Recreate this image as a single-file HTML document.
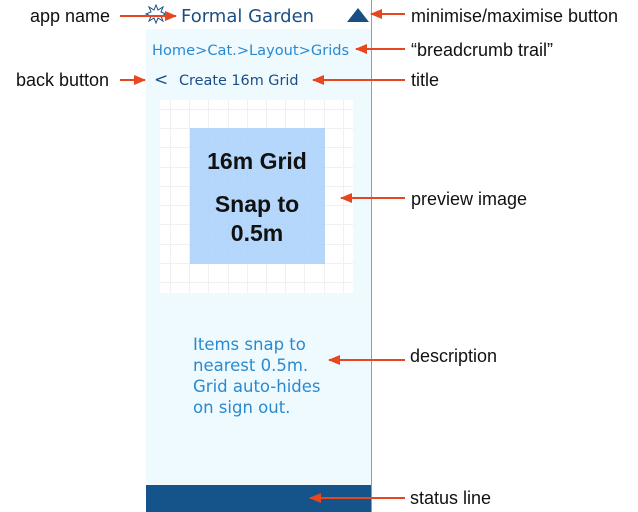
<!DOCTYPE html>
<html><head><meta charset="utf-8"><style>
html,body{margin:0;padding:0;background:#fff;}
svg{display:block;}
.l{font-family:"Liberation Sans",Arial,sans-serif;font-size:18px;fill:#111;}
.a{font-family:"DejaVu Sans",Verdana,sans-serif;}
</style></head><body>
<svg width="638" height="512" viewBox="0 0 638 512" xmlns="http://www.w3.org/2000/svg">
<defs>
<marker id="ar" markerWidth="12" markerHeight="10" refX="11" refY="5" orient="auto" markerUnits="userSpaceOnUse">
<path d="M0,0 L12,5 L0,10 z" fill="#e8461e"/>
</marker>
</defs>
<rect x="146" y="29" width="225" height="483" fill="#eefaff"/>
<line x1="371.5" y1="0" x2="371.5" y2="512" stroke="#9a9a9a" stroke-width="1"/>
<rect x="146" y="485" width="225" height="27" fill="#14548a"/>
<rect x="160" y="100" width="193" height="193" fill="#fff"/>
<g stroke="#f0f0f0" stroke-width="1">
<line x1="170.5" y1="100" x2="170.5" y2="293"/><line x1="189.5" y1="100" x2="189.5" y2="293"/>
<line x1="208.5" y1="100" x2="208.5" y2="293"/><line x1="228.5" y1="100" x2="228.5" y2="293"/>
<line x1="247.5" y1="100" x2="247.5" y2="293"/><line x1="266.5" y1="100" x2="266.5" y2="293"/>
<line x1="285.5" y1="100" x2="285.5" y2="293"/><line x1="304.5" y1="100" x2="304.5" y2="293"/>
<line x1="324.5" y1="100" x2="324.5" y2="293"/><line x1="343.5" y1="100" x2="343.5" y2="293"/>
<line x1="160" y1="109.5" x2="353" y2="109.5"/><line x1="160" y1="128.5" x2="353" y2="128.5"/>
<line x1="160" y1="147.5" x2="353" y2="147.5"/><line x1="160" y1="167.5" x2="353" y2="167.5"/>
<line x1="160" y1="186.5" x2="353" y2="186.5"/><line x1="160" y1="205.5" x2="353" y2="205.5"/>
<line x1="160" y1="224.5" x2="353" y2="224.5"/><line x1="160" y1="244.5" x2="353" y2="244.5"/>
<line x1="160" y1="263.5" x2="353" y2="263.5"/><line x1="160" y1="282.5" x2="353" y2="282.5"/>
</g>
<rect x="190" y="128" width="135" height="136" fill="#a8d0fa" opacity="0.85"/>
<g font-family="Liberation Sans,Arial,sans-serif" font-weight="bold" font-size="23" fill="#111" text-anchor="middle">
<text x="257" y="169">16m Grid</text>
<text x="257" y="212">Snap to</text>
<text x="257" y="241">0.5m</text>
</g>
<g transform="translate(156,14)" fill="none" stroke="#1a4f86" stroke-width="1">
<path d="M0,-9 L2,-4 L7,-7 L5,-2 L10,0 L5,2 L7,7 L2,4 L0,9 L-2,4 L-7,7 L-5,2 L-10,0 L-5,-2 L-7,-7 L-2,-4 Z"/>
</g>
<text class="a" x="181" y="22" font-size="18" fill="#1a4f86">Formal Garden</text>
<path d="M347,22 L358,8 L369,22 Z" fill="#1a4f86"/>
<text class="a" x="152" y="55" font-size="14.6" fill="#2a8ad0">Home&gt;Cat.&gt;Layout&gt;Grids</text>
<text class="a" x="154" y="85" font-size="17" fill="#1a4f86">&lt;</text>
<text class="a" x="179" y="85" font-size="14.4" fill="#1a4f86">Create 16m Grid</text>
<g class="a" font-size="16.5" fill="#2a8ad0">
<text x="193" y="350">Items snap to</text>
<text x="193" y="371">nearest 0.5m.</text>
<text x="193" y="392">Grid auto-hides</text>
<text x="193" y="413">on sign out.</text>
</g>
<text class="l" x="30" y="22">app name</text>
<text class="l" x="16" y="86">back button</text>
<text class="l" x="411" y="22">minimise/maximise button</text>
<text class="l" x="411" y="56">“breadcrumb trail”</text>
<text class="l" x="411" y="86">title</text>
<text class="l" x="411" y="205">preview image</text>
<text class="l" x="410" y="362">description</text>
<text class="l" x="410" y="504">status line</text>
<g stroke="#e8461e" stroke-width="2" marker-end="url(#ar)">
<line x1="120" y1="16" x2="176" y2="16"/>
<line x1="120" y1="80" x2="145" y2="80"/>
<line x1="405" y1="14" x2="371" y2="14"/>
<line x1="405" y1="49" x2="356" y2="49"/>
<line x1="405" y1="80" x2="313" y2="80"/>
<line x1="405" y1="198" x2="341" y2="198"/>
<line x1="405" y1="360" x2="329" y2="360"/>
<line x1="405" y1="498" x2="310" y2="498"/>
</g>
</svg>
</body></html>
